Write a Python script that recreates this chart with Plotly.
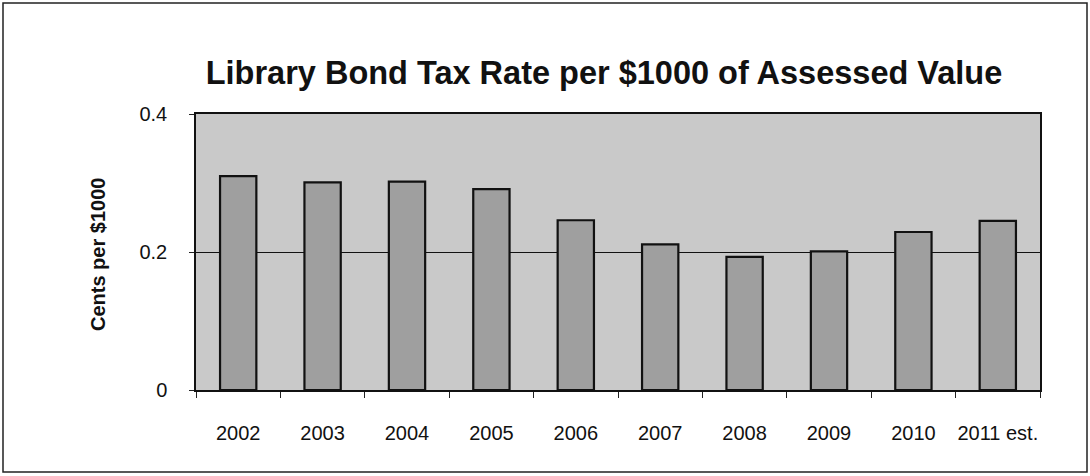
import plotly.graph_objects as go

# Library bond tax rate, cents per $1000 of assessed value
years = ["2002", "2003", "2004", "2005", "2006", "2007", "2008", "2009", "2010", "2011 est."]
rates = [0.310, 0.301, 0.302, 0.291, 0.246, 0.211, 0.193, 0.201, 0.229, 0.245]
y_ticks = [0, 0.2, 0.4]
y_tick_labels = ["0", "0.2", "0.4"]

W, H = 1090, 476
M_L, M_R, M_T, M_B = 196, 50, 114, 86
PW, PH = W - M_L - M_R, H - M_T - M_B

FONT = "Liberation Sans, Arial, sans-serif"

fig = go.Figure(
    go.Bar(
        x=years,
        y=rates,
        marker=dict(color="#9f9f9f", line=dict(color="#111111", width=2.2)),
        width=0.43,
        hoverinfo="x+y",
    )
)


def px_to_paper_x(px):
    return (px - M_L) / PW


def px_to_paper_y(py):
    return (H - M_B - py) / PH


fig.update_layout(
    width=W,
    height=H,
    margin=dict(l=M_L, r=M_R, t=M_T, b=M_B, pad=0),
    paper_bgcolor="white",
    plot_bgcolor="#c9c9c9",
    showlegend=False,
    font=dict(family=FONT, color="#111111"),
    title=dict(
        text="<b>Library Bond Tax Rate per $1000 of Assessed Value</b>",
        x=604 / W,
        xanchor="center",
        y=1 - 73 / H,
        yanchor="middle",
        font=dict(family=FONT, size=32.5, color="#111111"),
    ),
    xaxis=dict(
        type="category",
        showgrid=False,
        ticks="outside",
        tickson="boundaries",
        ticklen=6,
        tickcolor="#222222",
        tickangle=0,
        showline=True,
        linecolor="#111111",
        linewidth=1.5,
        mirror=True,
        tickfont=dict(size=20),
        ticklabelstandoff=24,
    ),
    yaxis=dict(
        range=[0, 0.4],
        tickvals=y_ticks,
        ticktext=y_tick_labels,
        showgrid=True,
        gridcolor="#111111",
        gridwidth=1.2,
        zeroline=False,
        ticks="outside",
        ticklen=5,
        tickcolor="#222222",
        showline=True,
        linecolor="#111111",
        linewidth=1.5,
        mirror=True,
        tickfont=dict(size=20),
        ticklabelstandoff=18,
    ),
    annotations=[
        dict(
            text="<b>Cents per $1000</b>",
            textangle=-90,
            x=px_to_paper_x(98),
            y=px_to_paper_y(255),
            xref="paper",
            yref="paper",
            xanchor="center",
            yanchor="middle",
            showarrow=False,
            font=dict(family=FONT, size=20, color="#111111"),
        )
    ],
    shapes=[
        # outer frame around the whole chart
        dict(
            type="rect",
            xref="paper",
            yref="paper",
            x0=px_to_paper_x(3),
            x1=px_to_paper_x(1087),
            y0=px_to_paper_y(472),
            y1=px_to_paper_y(3),
            line=dict(color="#222222", width=1.5),
            layer="above",
        )
    ],
)

fig.write_html("out.html")
